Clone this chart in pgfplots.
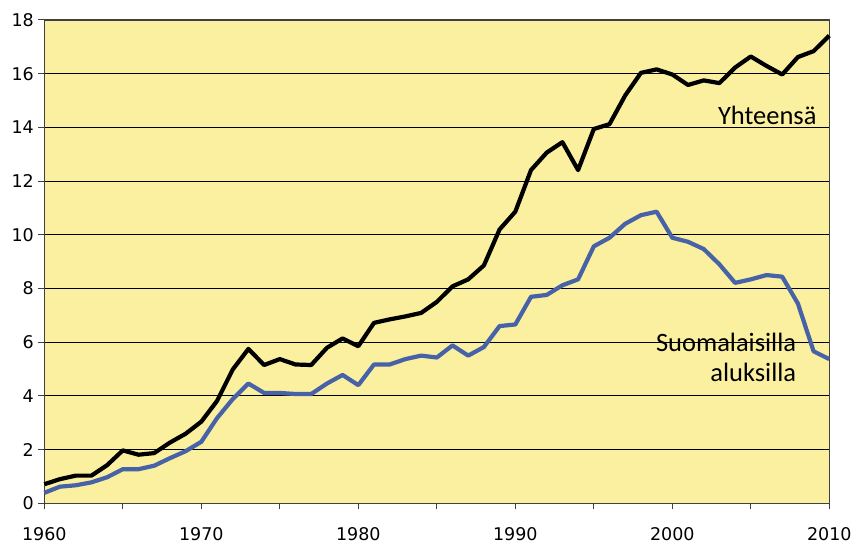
\documentclass[border=0pt]{standalone}
\usepackage{fontspec}
\setmainfont{DejaVu Sans}
\newfontfamily\calfont{Carlito}
\usepackage{pgfplots}
\pgfplotsset{compat=1.18}
\definecolor{bgyellow}{RGB}{250,240,160}
\definecolor{lineblue}{RGB}{72,98,168}
\definecolor{axgray}{RGB}{64,64,64}
\begin{document}
\begin{tikzpicture}
\useasboundingbox (-44.3bp,-40.7bp) rectangle (812.7bp,503.3bp);
\begin{axis}[
  at={(0,0)}, anchor=south west,
  width=785bp, height=483.3bp, scale only axis,
  xmin=1960, xmax=2010, ymin=0, ymax=18,
  axis background/.style={fill=bgyellow},
  axis line style={axgray, line width=1.2bp},
  xtick={1960,1970,...,2010},
  minor xtick={1965,1975,...,2005},
  ytick={0,2,...,18},
  tick align=outside,
  major tick length=6bp, minor tick length=6bp,
  tick style={axgray, line width=1bp},
  xtick pos=bottom, ytick pos=left,
  ymajorgrids, grid style={black, line width=0.8bp},
  /pgf/number format/assume math mode=true,
  /pgf/number format/1000 sep={},
  tick label style={font=\fontsize{17.5bp}{20bp}\selectfont, text=black},
  xticklabel style={yshift=-15bp},
  yticklabel style={xshift=-1bp},
  clip=false,
]
\addplot[black, line width=4.2bp, line join=round] coordinates {
(1960,0.71)(1961,0.90)(1962,1.03)(1963,1.03)(1964,1.42)(1965,1.97)(1966,1.81)(1967,1.87)(1968,2.26)(1969,2.59)
(1970,3.04)(1971,3.81)(1972,4.98)(1973,5.75)(1974,5.15)(1975,5.37)(1976,5.17)(1977,5.15)(1978,5.79)(1979,6.14)
(1980,5.85)(1981,6.72)(1982,6.85)(1983,6.96)(1984,7.09)(1985,7.50)(1986,8.08)(1987,8.34)(1988,8.86)(1989,10.20)
(1990,10.86)(1991,12.41)(1992,13.06)(1993,13.45)(1994,12.41)(1995,13.94)(1996,14.12)(1997,15.19)(1998,16.03)(1999,16.16)
(2000,15.97)(2001,15.58)(2002,15.75)(2003,15.65)(2004,16.23)(2005,16.64)(2006,16.29)(2007,15.97)(2008,16.62)(2009,16.84)
(2010,17.42)};
\addplot[lineblue, line width=4.2bp, line join=round] coordinates {
(1960,0.39)(1961,0.62)(1962,0.67)(1963,0.78)(1964,0.97)(1965,1.27)(1966,1.27)(1967,1.40)(1968,1.68)(1969,1.94)
(1970,2.29)(1971,3.17)(1972,3.88)(1973,4.46)(1974,4.11)(1975,4.11)(1976,4.07)(1977,4.07)(1978,4.46)(1979,4.78)
(1980,4.40)(1981,5.17)(1982,5.17)(1983,5.37)(1984,5.50)(1985,5.43)(1986,5.88)(1987,5.50)(1988,5.82)(1989,6.60)
(1990,6.66)(1991,7.69)(1992,7.76)(1993,8.12)(1994,8.34)(1995,9.57)(1996,9.89)(1997,10.41)(1998,10.73)(1999,10.86)
(2000,9.89)(2001,9.74)(2002,9.47)(2003,8.90)(2004,8.21)(2005,8.34)(2006,8.50)(2007,8.44)(2008,7.44)(2009,5.66)
(2010,5.37)};
\node[anchor=base east, inner sep=0pt, font=\calfont\fontsize{26.5bp}{31bp}\selectfont] at (axis cs:2009.2,14.09) {Yhteensä};
\node[anchor=base east, inner sep=0pt, font=\calfont\fontsize{26.5bp}{31bp}\selectfont] at (axis cs:2007.9,5.67) {Suomalaisilla};
\node[anchor=base east, inner sep=0pt, font=\calfont\fontsize{26.5bp}{31bp}\selectfont] at (axis cs:2007.9,4.52) {aluksilla};
\end{axis}
\end{tikzpicture}
\end{document}
